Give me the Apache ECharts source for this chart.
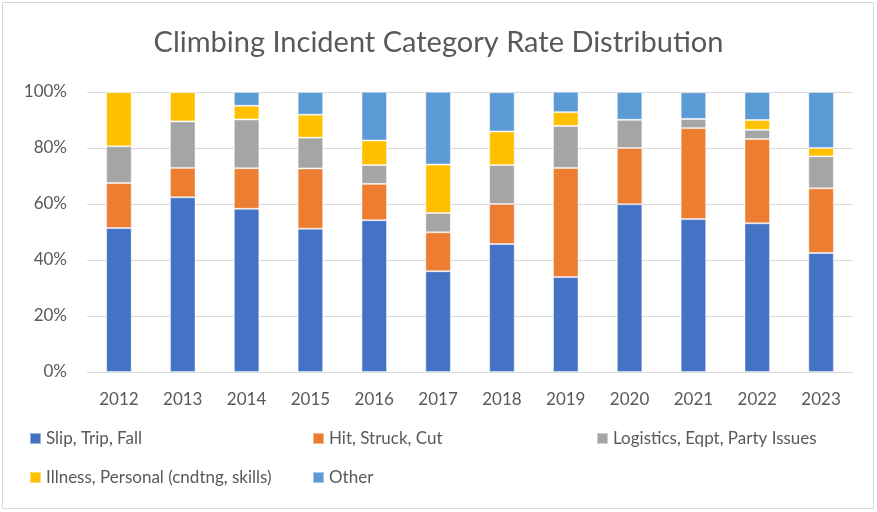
<!DOCTYPE html>
<html><head><meta charset="utf-8">
<script src="https://cdn.jsdelivr.net/npm/echarts@6/dist/echarts.min.js"></script>
<style>html,body{margin:0;padding:0;background:#fff}#c{width:877px;height:512px}</style>
</head><body><div id="c"></div>
<script>
const years = ['2012','2013','2014','2015','2016','2017','2018','2019','2020','2021','2022','2023'];
const seriesNames = ['Slip, Trip, Fall','Hit, Struck, Cut','Logistics, Eqpt, Party Issues','Illness, Personal (cndtng, skills)','Other'];
const slipTripFall = [51.4,62.4,58.3,51.2,54.2,36.0,45.7,33.9,59.9,54.6,53.1,42.5];
const hitStruckCut = [16.1,10.5,14.5,21.5,13.0,13.9,14.3,39.0,20.1,32.5,30.1,23.1];
const logistics    = [13.1,16.6,17.4,11.0,6.7,6.9,13.9,15.0,10.1,3.3,3.3,11.4];
const illness      = [19.4,10.5,4.9,8.2,8.8,17.3,12.0,4.9,0,0,3.5,3.0];
const other        = [0,0,4.9,8.1,17.4,26.0,14.0,7.3,9.9,9.5,10.0,20.0];
const yTicks = ['0%','20%','40%','60%','80%','100%'];

const colors = ['#4472C4','#ED7D31','#A5A5A5','#FFC000','#5B9BD5'];
const dataSets = [slipTripFall, hitStruckCut, logistics, illness, other];
const font = 'Lato, "Open Sans", sans-serif';
const txt = '#595959';

const legendPos = [
  {left: 29, top: 430},
  {left: 312, top: 430},
  {left: 596, top: 430},
  {left: 29, top: 469},
  {left: 312, top: 469}
];

const chart = echarts.init(document.getElementById('c'), null, {renderer:'canvas'});
chart.setOption({
  animation: false,
  backgroundColor: '#fff',
  title: {
    text: 'Climbing Incident Category Rate Distribution',
    left: 'center', top: 23,
    textStyle: {fontFamily: font, fontSize: 29, fontWeight: 'normal', color: txt}
  },
  legend: seriesNames.map((n, i) => ({
    data: [n], left: legendPos[i].left, top: legendPos[i].top, padding: 0,
    icon: 'rect', itemWidth: 11, itemHeight: 11, itemGap: 4,
    textStyle: {fontFamily: font, fontSize: 17, color: txt, padding: [0,0,0,0]}
  })),
  grid: {left: 87, right: 24, top: 92, bottom: 140},
  xAxis: {
    type: 'category', data: years,
    axisLine: {lineStyle: {color: '#D9D9D9', width: 1}},
    axisTick: {show: false},
    axisLabel: {fontFamily: font, fontSize: 17, color: txt, margin: 19}
  },
  yAxis: {
    type: 'value', min: 0, max: 100, interval: 20,
    axisLine: {show: false}, axisTick: {show: false},
    splitLine: {lineStyle: {color: '#D9D9D9', width: 1}},
    axisLabel: {fontFamily: font, fontSize: 17, color: txt, margin: 20,
      formatter: v => yTicks[Math.round(v/20)]}
  },
  series: seriesNames.map((n, i) => ({
    name: n, type: 'bar', stack: 'total', barWidth: '40%',
    data: dataSets[i],
    itemStyle: {color: colors[i], borderColor: 'rgba(255,255,255,0.45)', borderWidth: 1}
  })),
  graphic: [{
    type: 'rect', shape: {x: 2.5, y: 2.5, width: 871, height: 506},
    style: {fill: 'none', stroke: '#D9D9D9', lineWidth: 1}, silent: true, z: 100
  }]
});
</script></body></html>
